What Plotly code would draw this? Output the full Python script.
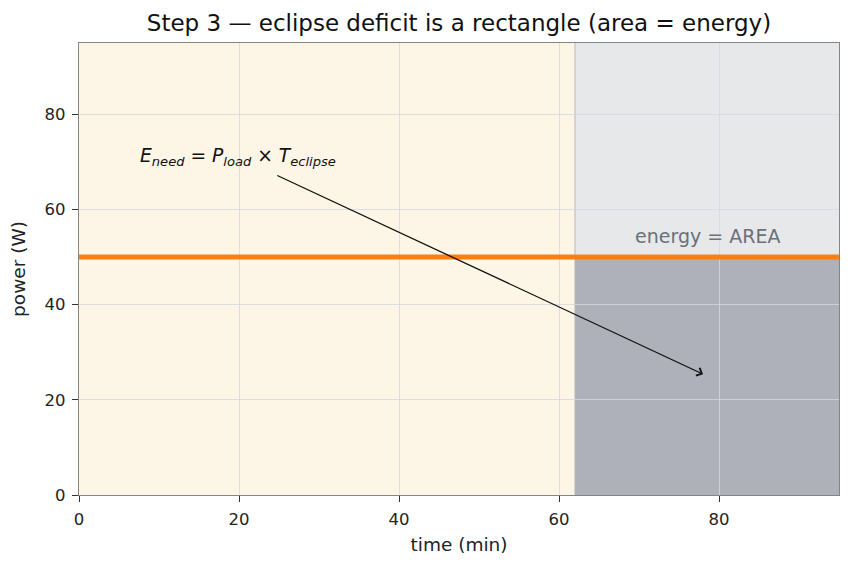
import plotly.graph_objects as go

# data
orbit_period = 95          # min
eclipse_start = 62         # min
load_power = 50            # W
y_max = 95
x_ticks = [0, 20, 40, 60, 80]
y_ticks = [0, 20, 40, 60, 80]
line_x = [0, 95]
line_y = [load_power, load_power]
eq_pos = (7.4, 71)
arrow_tail = (24.6, 67.3)
arrow_head = (78, 25.4)
area_label_pos = (78.5, 54.5)

fig = go.Figure()

fig.add_trace(go.Scatter(x=line_x, y=line_y, mode="lines",
                         line=dict(color="#ff7f0e", width=5),
                         showlegend=False, hoverinfo="skip"))

shapes = [
    dict(type="rect", xref="x", yref="y", x0=0, x1=eclipse_start, y0=0, y1=y_max,
         fillcolor="#fdf6e6", line=dict(width=0), layer="below"),
    dict(type="rect", xref="x", yref="y", x0=eclipse_start, x1=orbit_period, y0=0, y1=y_max,
         fillcolor="#e6e8ea", line=dict(width=0), layer="below"),
    dict(type="rect", xref="x", yref="y", x0=eclipse_start, x1=orbit_period, y0=0, y1=load_power,
         fillcolor="#aeb1ba", line=dict(width=0), layer="below"),
    dict(type="line", xref="x", yref="y", x0=eclipse_start, x1=eclipse_start, y0=0, y1=y_max,
         line=dict(color="#b5b7bd", width=1), layer="below"),
]

annotations = [
    dict(x=eq_pos[0], y=eq_pos[1], xref="x", yref="y", xanchor="left", yanchor="middle",
         text="<i>E</i><sub><i>need</i></sub> = <i>P</i><sub><i>load</i></sub> × <i>T</i><sub><i>eclipse</i></sub>",
         showarrow=False, font=dict(size=18.7, color="#111111", family="DejaVu Sans")),
    dict(x=arrow_head[0], y=arrow_head[1], ax=arrow_tail[0], ay=arrow_tail[1],
         xref="x", yref="y", axref="x", ayref="y", text="", showarrow=True,
         arrowhead=4, arrowsize=1.3, arrowwidth=1.3, arrowcolor="#111111"),
    dict(x=area_label_pos[0], y=area_label_pos[1], xref="x", yref="y",
         text="energy = AREA", showarrow=False,
         font=dict(size=19, color="#6b7079", family="DejaVu Sans")),
]

axis_common = dict(showgrid=True, gridcolor="rgba(215,215,228,0.8)", gridwidth=1,
                   showline=True, linecolor="#858585", linewidth=1.3, mirror=True,
                   ticks="outside", ticklen=6, tickcolor="#333333", tickwidth=1.2,
                   zeroline=False, tickfont=dict(size=16.5, color="#222222"),
                   ticklabelstandoff=3,
                   title_font=dict(size=18.5, color="#222222"))

fig.update_layout(
    width=852, height=569,
    margin=dict(l=79, r=13, t=43, b=74),
    paper_bgcolor="white", plot_bgcolor="white",
    font=dict(family="DejaVu Sans", color="#222222"),
    title=dict(text="Step 3 — eclipse deficit is a rectangle (area = energy)",
               x=(79 + 839) / 2 / 852, xanchor="center", y=1 - 23 / 569, yanchor="middle",
               font=dict(size=23, color="#111111")),
    xaxis=dict(range=[0, orbit_period], tickvals=x_ticks, title=dict(text="time (min)", standoff=10),
               **axis_common),
    yaxis=dict(range=[0, y_max], tickvals=y_ticks, title=dict(text="power (W)", standoff=14),
               **axis_common),
    shapes=shapes, annotations=annotations,
)

fig.write_html("out.html")
